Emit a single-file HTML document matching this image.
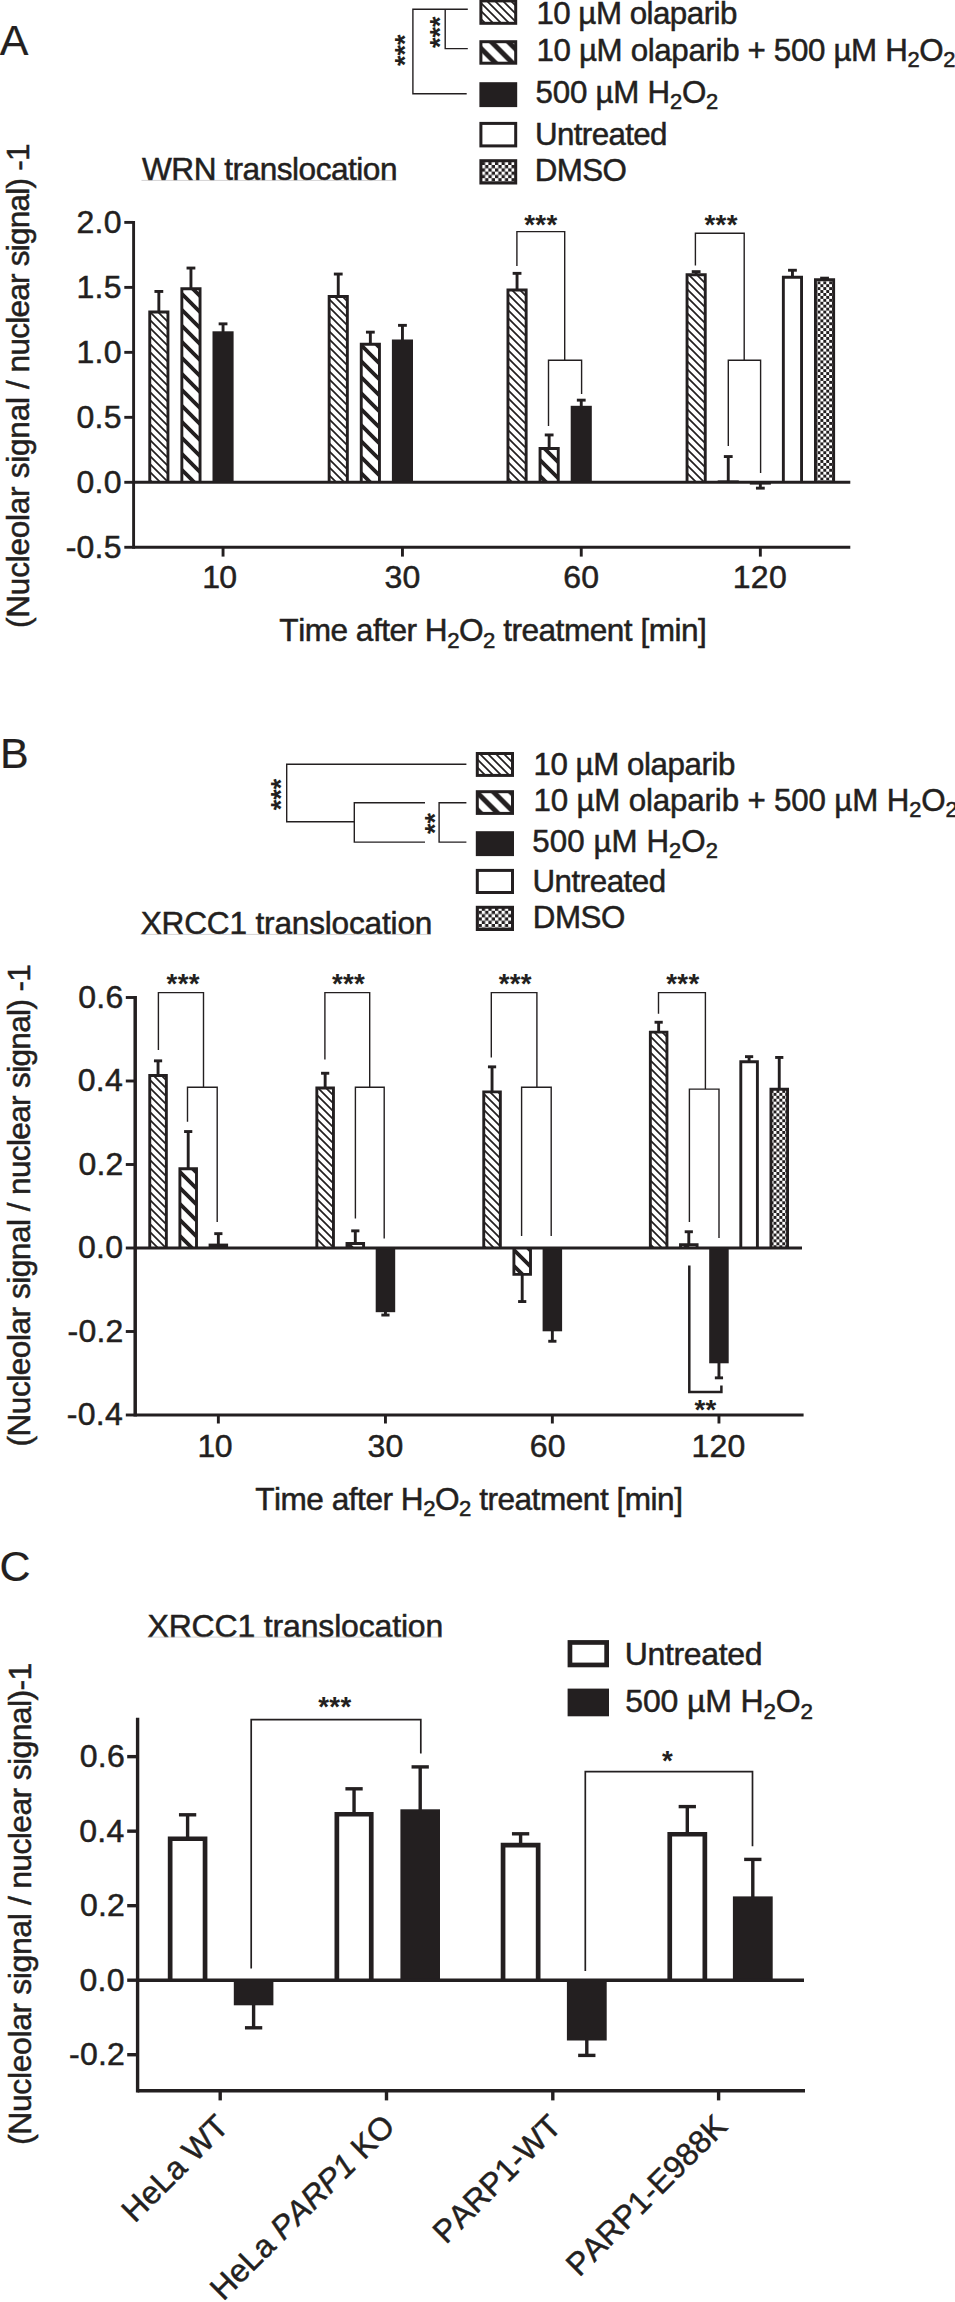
<!DOCTYPE html>
<html lang="en"><head><meta charset="utf-8"><title>Figure</title>
<style>
html,body{margin:0;padding:0;background:#fff;}
body{width:955px;height:2302px;overflow:hidden;}
svg{display:block;}
text{font-family:"Liberation Sans",sans-serif;fill:#231f20;stroke:#231f20;font-kerning:none;font-variant-ligatures:none;white-space:pre;}
</style></head><body>
<svg width="955" height="2302" viewBox="0 0 955 2302">
<rect width="955" height="2302" fill="#fff"/>
<defs>
<pattern id="h1" patternUnits="userSpaceOnUse" width="8" height="8" patternTransform="translate(0,2)">
<rect width="8" height="8" fill="#fff"/>
<path d="M-2,-2 L10,10 M-2,6 L2,10 M6,-2 L10,2" stroke="#231f20" stroke-width="1.7" fill="none"/>
</pattern>
<pattern id="h2" patternUnits="userSpaceOnUse" width="16" height="16">
<rect width="16" height="16" fill="#fff"/>
<path d="M-4,-4 L20,20 M-4,12 L4,20 M12,-4 L20,4" stroke="#231f20" stroke-width="3.8" fill="none"/>
</pattern>
<pattern id="h2l" patternUnits="userSpaceOnUse" width="17" height="17" patternTransform="translate(0,9.45)">
<rect width="17" height="17" fill="#fff"/>
<path d="M-5,-5 L22,22 M-5,12 L5,22 M12,-5 L22,5" stroke="#231f20" stroke-width="5.0" fill="none"/>
</pattern>
<pattern id="ck" patternUnits="userSpaceOnUse" width="5.86" height="5.86">
<rect width="5.86" height="5.86" fill="#231f20"/>
<rect x="0" y="0" width="2.93" height="2.93" fill="#fff"/>
<rect x="2.93" y="2.93" width="2.93" height="2.93" fill="#fff"/>
</pattern>
<pattern id="ckl" patternUnits="userSpaceOnUse" width="6.6" height="6.6">
<rect width="6.6" height="6.6" fill="#231f20"/>
<rect x="0" y="0" width="3.3" height="3.3" fill="#fff"/>
<rect x="3.3" y="3.3" width="3.3" height="3.3" fill="#fff"/>
</pattern>
</defs>
<text x="-0.30" y="54.90" font-size="43" letter-spacing="0.000" stroke-width="0.2">A</text>
<rect x="480.90" y="0.90" width="34.80" height="22.40" fill="url(#h1)"/>
<rect x="480.90" y="0.90" width="34.80" height="22.40" fill="none" stroke="#231f20" stroke-width="3.0"/>
<rect x="480.90" y="41.70" width="34.80" height="21.50" fill="url(#h2l)"/>
<rect x="480.90" y="41.70" width="34.80" height="21.50" fill="none" stroke="#231f20" stroke-width="3.0"/>
<rect x="479.40" y="82.20" width="37.80" height="24.90" fill="#231f20"/>
<rect x="480.90" y="123.40" width="34.80" height="22.50" fill="#fff"/>
<rect x="480.90" y="123.40" width="34.80" height="22.50" fill="none" stroke="#231f20" stroke-width="3.0"/>
<rect x="480.90" y="160.70" width="34.80" height="22.30" fill="url(#ckl)"/>
<rect x="480.90" y="160.70" width="34.80" height="22.30" fill="none" stroke="#231f20" stroke-width="3.0"/>
<text x="536.42" y="23.90" font-size="31.3" letter-spacing="-0.514" stroke-width="0.5">10 µM olaparib</text>
<text x="536.42" y="61.00" font-size="31.3" letter-spacing="-0.345" stroke-width="0.5">10 µM olaparib + 500 µM H<tspan dy="6.26" font-size="21.91">2</tspan><tspan dy="-6.26">O</tspan><tspan dy="6.26" font-size="21.91">2</tspan></text>
<text x="535.55" y="102.90" font-size="31.3" letter-spacing="-0.239" stroke-width="0.5">500 µM H<tspan dy="6.26" font-size="21.91">2</tspan><tspan dy="-6.26">O</tspan><tspan dy="6.26" font-size="21.91">2</tspan></text>
<text x="534.99" y="145.30" font-size="31.3" letter-spacing="-0.616" stroke-width="0.5">Untreated</text>
<text x="534.83" y="181.20" font-size="31.3" letter-spacing="-0.612" stroke-width="0.5">DMSO</text>
<polyline points="467.80,9.20 412.90,9.20 412.90,93.80 466.70,93.80" fill="none" stroke="#231f20" stroke-width="1.4" stroke-linejoin="miter"/>
<polyline points="445.20,9.20 445.20,48.60 467.80,48.60" fill="none" stroke="#231f20" stroke-width="1.4" stroke-linejoin="miter"/>
<text transform="translate(413.83,50.30) rotate(-90)" x="-15.79" y="0" font-size="27.0" letter-spacing="0.000" stroke-width="0"><tspan font-weight="bold">***</tspan></text>
<text transform="translate(448.73,32.20) rotate(-90)" x="-15.79" y="0" font-size="27.0" letter-spacing="0.000" stroke-width="0"><tspan font-weight="bold">***</tspan></text>
<text x="142.06" y="179.90" font-size="31.6" letter-spacing="-0.495" stroke-width="0.5">WRN translocation</text>
<line x1="141.50" y1="180.40" x2="396.00" y2="180.40" stroke="#b4b2b3" stroke-width="0.6"/>
<text transform="translate(29.30,627.96) rotate(-90)" font-size="31.6" letter-spacing="-0.273" stroke-width="0.5">(Nucleolar signal</text>
<text transform="translate(29.30,389.10) rotate(-90)" font-size="31.6" letter-spacing="0.000" stroke-width="0.5">/</text>
<text transform="translate(29.30,372.40) rotate(-90)" font-size="31.6" letter-spacing="-0.785" stroke-width="0.5">nuclear signal) -1</text>
<line x1="133.60" y1="220.95" x2="133.60" y2="548.73" stroke="#231f20" stroke-width="2.9"/>
<line x1="124.30" y1="222.40" x2="133.60" y2="222.40" stroke="#231f20" stroke-width="2.9"/>
<text x="76.47" y="232.80" font-size="32.0" letter-spacing="0.250" stroke-width="0.5">2.0</text>
<line x1="124.30" y1="287.38" x2="133.60" y2="287.38" stroke="#231f20" stroke-width="2.9"/>
<text x="76.56" y="297.77" font-size="32.0" letter-spacing="0.250" stroke-width="0.5">1.5</text>
<line x1="124.30" y1="352.35" x2="133.60" y2="352.35" stroke="#231f20" stroke-width="2.9"/>
<text x="76.47" y="362.75" font-size="32.0" letter-spacing="0.250" stroke-width="0.5">1.0</text>
<line x1="124.30" y1="417.33" x2="133.60" y2="417.33" stroke="#231f20" stroke-width="2.9"/>
<text x="76.56" y="427.73" font-size="32.0" letter-spacing="0.250" stroke-width="0.5">0.5</text>
<line x1="124.30" y1="482.30" x2="133.60" y2="482.30" stroke="#231f20" stroke-width="2.9"/>
<text x="76.47" y="492.70" font-size="32.0" letter-spacing="0.250" stroke-width="0.5">0.0</text>
<line x1="124.30" y1="547.27" x2="133.60" y2="547.27" stroke="#231f20" stroke-width="2.9"/>
<text x="65.65" y="557.67" font-size="32.0" letter-spacing="0.250" stroke-width="0.5">-0.5</text>
<line x1="133.60" y1="547.27" x2="850.30" y2="547.27" stroke="#231f20" stroke-width="2.9"/>
<line x1="158.85" y1="311.50" x2="158.85" y2="291.45" stroke="#231f20" stroke-width="2.9"/>
<line x1="154.45" y1="291.45" x2="163.25" y2="291.45" stroke="#231f20" stroke-width="2.9"/>
<rect x="149.75" y="311.95" width="18.20" height="170.35" fill="url(#h1)"/>
<path d="M149.75,482.30 L149.75,311.95 L167.95,311.95 L167.95,482.30" fill="none" stroke="#231f20" stroke-width="2.9" stroke-linejoin="miter"/>
<line x1="190.95" y1="288.30" x2="190.95" y2="268.05" stroke="#231f20" stroke-width="2.9"/>
<line x1="186.55" y1="268.05" x2="195.35" y2="268.05" stroke="#231f20" stroke-width="2.9"/>
<rect x="181.85" y="288.75" width="18.20" height="193.55" fill="url(#h2)"/>
<path d="M181.85,482.30 L181.85,288.75 L200.05,288.75 L200.05,482.30" fill="none" stroke="#231f20" stroke-width="2.9" stroke-linejoin="miter"/>
<line x1="223.05" y1="332.30" x2="223.05" y2="323.85" stroke="#231f20" stroke-width="2.9"/>
<line x1="218.65" y1="323.85" x2="227.45" y2="323.85" stroke="#231f20" stroke-width="2.9"/>
<rect x="212.50" y="331.30" width="21.10" height="151.00" fill="#231f20"/>
<line x1="338.25" y1="296.00" x2="338.25" y2="274.05" stroke="#231f20" stroke-width="2.9"/>
<line x1="333.85" y1="274.05" x2="342.65" y2="274.05" stroke="#231f20" stroke-width="2.9"/>
<rect x="329.15" y="296.45" width="18.20" height="185.85" fill="url(#h1)"/>
<path d="M329.15,482.30 L329.15,296.45 L347.35,296.45 L347.35,482.30" fill="none" stroke="#231f20" stroke-width="2.9" stroke-linejoin="miter"/>
<line x1="370.35" y1="343.80" x2="370.35" y2="332.15" stroke="#231f20" stroke-width="2.9"/>
<line x1="365.95" y1="332.15" x2="374.75" y2="332.15" stroke="#231f20" stroke-width="2.9"/>
<rect x="361.25" y="344.25" width="18.20" height="138.05" fill="url(#h2)"/>
<path d="M361.25,482.30 L361.25,344.25 L379.45,344.25 L379.45,482.30" fill="none" stroke="#231f20" stroke-width="2.9" stroke-linejoin="miter"/>
<line x1="402.45" y1="340.50" x2="402.45" y2="325.35" stroke="#231f20" stroke-width="2.9"/>
<line x1="398.05" y1="325.35" x2="406.85" y2="325.35" stroke="#231f20" stroke-width="2.9"/>
<rect x="391.90" y="339.50" width="21.10" height="142.80" fill="#231f20"/>
<line x1="517.05" y1="289.60" x2="517.05" y2="273.35" stroke="#231f20" stroke-width="2.9"/>
<line x1="512.65" y1="273.35" x2="521.45" y2="273.35" stroke="#231f20" stroke-width="2.9"/>
<rect x="507.95" y="290.05" width="18.20" height="192.25" fill="url(#h1)"/>
<path d="M507.95,482.30 L507.95,290.05 L526.15,290.05 L526.15,482.30" fill="none" stroke="#231f20" stroke-width="2.9" stroke-linejoin="miter"/>
<line x1="549.15" y1="448.00" x2="549.15" y2="434.95" stroke="#231f20" stroke-width="2.9"/>
<line x1="544.75" y1="434.95" x2="553.55" y2="434.95" stroke="#231f20" stroke-width="2.9"/>
<rect x="540.05" y="448.45" width="18.20" height="33.85" fill="url(#h2)"/>
<path d="M540.05,482.30 L540.05,448.45 L558.25,448.45 L558.25,482.30" fill="none" stroke="#231f20" stroke-width="2.9" stroke-linejoin="miter"/>
<line x1="581.25" y1="406.80" x2="581.25" y2="400.15" stroke="#231f20" stroke-width="2.9"/>
<line x1="576.85" y1="400.15" x2="585.65" y2="400.15" stroke="#231f20" stroke-width="2.9"/>
<rect x="570.70" y="405.80" width="21.10" height="76.50" fill="#231f20"/>
<line x1="696.15" y1="274.30" x2="696.15" y2="271.65" stroke="#231f20" stroke-width="2.9"/>
<line x1="691.75" y1="271.65" x2="700.55" y2="271.65" stroke="#231f20" stroke-width="2.9"/>
<rect x="687.05" y="274.75" width="18.20" height="207.55" fill="url(#h1)"/>
<path d="M687.05,482.30 L687.05,274.75 L705.25,274.75 L705.25,482.30" fill="none" stroke="#231f20" stroke-width="2.9" stroke-linejoin="miter"/>
<line x1="728.25" y1="481.40" x2="728.25" y2="456.55" stroke="#231f20" stroke-width="2.9"/>
<line x1="723.85" y1="456.55" x2="732.65" y2="456.55" stroke="#231f20" stroke-width="2.9"/>
<rect x="717.70" y="480.40" width="21.10" height="1.90" fill="#231f20"/>
<line x1="760.35" y1="483.60" x2="760.35" y2="488.15" stroke="#231f20" stroke-width="2.9"/>
<line x1="755.95" y1="488.15" x2="764.75" y2="488.15" stroke="#231f20" stroke-width="2.9"/>
<rect x="749.80" y="482.30" width="21.10" height="2.30" fill="#231f20"/>
<line x1="792.45" y1="276.80" x2="792.45" y2="270.25" stroke="#231f20" stroke-width="2.9"/>
<line x1="788.05" y1="270.25" x2="796.85" y2="270.25" stroke="#231f20" stroke-width="2.9"/>
<rect x="783.35" y="277.25" width="18.20" height="205.05" fill="#fff"/>
<path d="M783.35,482.30 L783.35,277.25 L801.55,277.25 L801.55,482.30" fill="none" stroke="#231f20" stroke-width="2.9" stroke-linejoin="miter"/>
<line x1="824.55" y1="279.20" x2="824.55" y2="278.15" stroke="#231f20" stroke-width="2.9"/>
<line x1="820.15" y1="278.15" x2="828.95" y2="278.15" stroke="#231f20" stroke-width="2.9"/>
<rect x="815.45" y="279.65" width="18.20" height="202.65" fill="url(#ck)"/>
<path d="M815.45,482.30 L815.45,279.65 L833.65,279.65 L833.65,482.30" fill="none" stroke="#231f20" stroke-width="2.9" stroke-linejoin="miter"/>
<line x1="133.60" y1="482.30" x2="850.30" y2="482.30" stroke="#231f20" stroke-width="2.9"/>
<line x1="223.05" y1="547.27" x2="223.05" y2="556.60" stroke="#231f20" stroke-width="2.9"/>
<text x="202.16" y="588.00" font-size="32.0" letter-spacing="-0.600" stroke-width="0.5">10</text>
<line x1="402.45" y1="547.27" x2="402.45" y2="556.60" stroke="#231f20" stroke-width="2.9"/>
<text x="384.54" y="588.00" font-size="32.0" letter-spacing="0.250" stroke-width="0.5">30</text>
<line x1="581.25" y1="547.27" x2="581.25" y2="556.60" stroke="#231f20" stroke-width="2.9"/>
<text x="563.14" y="588.00" font-size="32.0" letter-spacing="0.250" stroke-width="0.5">60</text>
<line x1="760.35" y1="547.27" x2="760.35" y2="556.60" stroke="#231f20" stroke-width="2.9"/>
<text x="732.81" y="588.00" font-size="32.0" letter-spacing="0.250" stroke-width="0.5">120</text>
<text x="279.34" y="641.40" font-size="31.6" letter-spacing="-0.497" stroke-width="0.5">Time after H<tspan dy="6.32" font-size="22.12">2</tspan><tspan dy="-6.32">O</tspan><tspan dy="6.32" font-size="22.12">2</tspan><tspan dy="-6.32"> treatment [min]</tspan></text>
<polyline points="516.90,265.90 516.90,231.60 564.70,231.60 564.70,360.20" fill="none" stroke="#231f20" stroke-width="1.4" stroke-linejoin="miter"/>
<polyline points="548.50,426.00 548.50,360.20 581.60,360.20 581.60,394.00" fill="none" stroke="#231f20" stroke-width="1.4" stroke-linejoin="miter"/>
<text x="524.25" y="233.85" font-size="27.7" letter-spacing="0.300" stroke-width="0"><tspan font-weight="bold">***</tspan></text>
<polyline points="695.40,265.60 695.40,233.30 744.20,233.30 744.20,360.30" fill="none" stroke="#231f20" stroke-width="1.4" stroke-linejoin="miter"/>
<polyline points="728.30,446.00 728.30,360.30 760.60,360.30 760.60,473.10" fill="none" stroke="#231f20" stroke-width="1.4" stroke-linejoin="miter"/>
<text x="704.50" y="233.85" font-size="27.7" letter-spacing="0.300" stroke-width="0"><tspan font-weight="bold">***</tspan></text>
<text x="0.00" y="768.30" font-size="43" letter-spacing="0.000" stroke-width="0.2">B</text>
<rect x="477.30" y="753.50" width="35.20" height="21.90" fill="url(#h1)"/>
<rect x="477.30" y="753.50" width="35.20" height="21.90" fill="none" stroke="#231f20" stroke-width="3.0"/>
<rect x="477.30" y="791.70" width="35.20" height="21.70" fill="url(#h2l)"/>
<rect x="477.30" y="791.70" width="35.20" height="21.70" fill="none" stroke="#231f20" stroke-width="3.0"/>
<rect x="475.80" y="831.20" width="38.20" height="24.90" fill="#231f20"/>
<rect x="477.30" y="870.40" width="35.20" height="22.10" fill="#fff"/>
<rect x="477.30" y="870.40" width="35.20" height="22.10" fill="none" stroke="#231f20" stroke-width="3.0"/>
<rect x="477.30" y="907.30" width="35.20" height="22.20" fill="url(#ckl)"/>
<rect x="477.30" y="907.30" width="35.20" height="22.20" fill="none" stroke="#231f20" stroke-width="3.0"/>
<text x="533.42" y="774.80" font-size="31.3" letter-spacing="-0.437" stroke-width="0.5">10 µM olaparib</text>
<text x="533.42" y="811.10" font-size="31.3" letter-spacing="-0.156" stroke-width="0.5">10 µM olaparib + 500 µM H<tspan dy="6.26" font-size="21.91">2</tspan><tspan dy="-6.26">O</tspan><tspan dy="6.26" font-size="21.91">2</tspan></text>
<text x="532.25" y="851.90" font-size="31.3" letter-spacing="0.061" stroke-width="0.5">500 µM H<tspan dy="6.26" font-size="21.91">2</tspan><tspan dy="-6.26">O</tspan><tspan dy="6.26" font-size="21.91">2</tspan></text>
<text x="532.39" y="892.20" font-size="31.3" letter-spacing="-0.453" stroke-width="0.5">Untreated</text>
<text x="532.73" y="927.80" font-size="31.3" letter-spacing="-0.445" stroke-width="0.5">DMSO</text>
<polyline points="466.40,764.20 286.70,764.20 286.70,821.70 354.30,821.70" fill="none" stroke="#231f20" stroke-width="1.4" stroke-linejoin="miter"/>
<polyline points="425.00,802.80 354.30,802.80 354.30,842.10 425.00,842.10" fill="none" stroke="#231f20" stroke-width="1.4" stroke-linejoin="miter"/>
<polyline points="466.40,802.80 439.10,802.80 439.10,842.10 466.40,842.10" fill="none" stroke="#231f20" stroke-width="1.4" stroke-linejoin="miter"/>
<text transform="translate(289.93,794.50) rotate(-90)" x="-15.79" y="0" font-size="27.0" letter-spacing="0.000" stroke-width="0"><tspan font-weight="bold">***</tspan></text>
<text transform="translate(443.53,823.40) rotate(-90)" x="-10.53" y="0" font-size="27.0" letter-spacing="0.000" stroke-width="0"><tspan font-weight="bold">**</tspan></text>
<text x="140.69" y="933.80" font-size="31.6" letter-spacing="-0.183" stroke-width="0.5">XRCC1 translocation</text>
<line x1="140.50" y1="934.40" x2="431.00" y2="934.40" stroke="#b4b2b3" stroke-width="0.6"/>
<text transform="translate(29.90,1446.56) rotate(-90)" font-size="31.6" letter-spacing="-0.480" stroke-width="0.5">(Nucleolar signal</text>
<text transform="translate(29.90,1211.30) rotate(-90)" font-size="31.6" letter-spacing="0.000" stroke-width="0.5">/</text>
<text transform="translate(29.90,1194.90) rotate(-90)" font-size="31.6" letter-spacing="-0.685" stroke-width="0.5">nuclear signal) -1</text>
<line x1="135.20" y1="996.05" x2="135.20" y2="1416.45" stroke="#231f20" stroke-width="3.5"/>
<line x1="125.80" y1="997.50" x2="135.20" y2="997.50" stroke="#231f20" stroke-width="2.9"/>
<text x="78.22" y="1007.90" font-size="32.0" letter-spacing="0.250" stroke-width="0.5">0.6</text>
<line x1="125.80" y1="1081.00" x2="135.20" y2="1081.00" stroke="#231f20" stroke-width="2.9"/>
<text x="77.75" y="1091.40" font-size="32.0" letter-spacing="0.250" stroke-width="0.5">0.4</text>
<line x1="125.80" y1="1164.50" x2="135.20" y2="1164.50" stroke="#231f20" stroke-width="2.9"/>
<text x="78.42" y="1174.90" font-size="32.0" letter-spacing="0.250" stroke-width="0.5">0.2</text>
<line x1="125.80" y1="1248.00" x2="135.20" y2="1248.00" stroke="#231f20" stroke-width="2.9"/>
<text x="78.07" y="1258.40" font-size="32.0" letter-spacing="0.250" stroke-width="0.5">0.0</text>
<line x1="125.80" y1="1331.50" x2="135.20" y2="1331.50" stroke="#231f20" stroke-width="2.9"/>
<text x="67.52" y="1341.90" font-size="32.0" letter-spacing="0.250" stroke-width="0.5">-0.2</text>
<line x1="125.80" y1="1415.00" x2="135.20" y2="1415.00" stroke="#231f20" stroke-width="2.9"/>
<text x="66.85" y="1425.40" font-size="32.0" letter-spacing="0.250" stroke-width="0.5">-0.4</text>
<line x1="135.20" y1="1415.00" x2="803.60" y2="1415.00" stroke="#231f20" stroke-width="2.9"/>
<line x1="158.05" y1="1075.00" x2="158.05" y2="1060.85" stroke="#231f20" stroke-width="2.9"/>
<line x1="153.95" y1="1060.85" x2="162.15" y2="1060.85" stroke="#231f20" stroke-width="2.9"/>
<rect x="149.75" y="1075.45" width="16.60" height="172.55" fill="url(#h1)"/>
<path d="M149.75,1248.00 L149.75,1075.45 L166.35,1075.45 L166.35,1248.00" fill="none" stroke="#231f20" stroke-width="2.9" stroke-linejoin="miter"/>
<line x1="188.20" y1="1168.30" x2="188.20" y2="1131.55" stroke="#231f20" stroke-width="2.9"/>
<line x1="184.10" y1="1131.55" x2="192.30" y2="1131.55" stroke="#231f20" stroke-width="2.9"/>
<rect x="179.90" y="1168.75" width="16.60" height="79.25" fill="url(#h2)"/>
<path d="M179.90,1248.00 L179.90,1168.75 L196.50,1168.75 L196.50,1248.00" fill="none" stroke="#231f20" stroke-width="2.9" stroke-linejoin="miter"/>
<line x1="218.35" y1="1244.60" x2="218.35" y2="1233.65" stroke="#231f20" stroke-width="2.9"/>
<line x1="214.25" y1="1233.65" x2="222.45" y2="1233.65" stroke="#231f20" stroke-width="2.9"/>
<rect x="208.60" y="1243.60" width="19.50" height="4.40" fill="#231f20"/>
<line x1="325.15" y1="1087.60" x2="325.15" y2="1073.25" stroke="#231f20" stroke-width="2.9"/>
<line x1="321.05" y1="1073.25" x2="329.25" y2="1073.25" stroke="#231f20" stroke-width="2.9"/>
<rect x="316.85" y="1088.05" width="16.60" height="159.95" fill="url(#h1)"/>
<path d="M316.85,1248.00 L316.85,1088.05 L333.45,1088.05 L333.45,1248.00" fill="none" stroke="#231f20" stroke-width="2.9" stroke-linejoin="miter"/>
<line x1="355.30" y1="1243.10" x2="355.30" y2="1230.85" stroke="#231f20" stroke-width="2.9"/>
<line x1="351.20" y1="1230.85" x2="359.40" y2="1230.85" stroke="#231f20" stroke-width="2.9"/>
<rect x="347.00" y="1243.55" width="16.60" height="4.45" fill="url(#h2)"/>
<path d="M347.00,1248.00 L347.00,1243.55 L363.60,1243.55 L363.60,1248.00" fill="none" stroke="#231f20" stroke-width="2.9" stroke-linejoin="miter"/>
<line x1="385.45" y1="1311.20" x2="385.45" y2="1315.05" stroke="#231f20" stroke-width="2.9"/>
<line x1="381.35" y1="1315.05" x2="389.55" y2="1315.05" stroke="#231f20" stroke-width="2.9"/>
<rect x="375.70" y="1248.00" width="19.50" height="64.20" fill="#231f20"/>
<line x1="492.05" y1="1091.40" x2="492.05" y2="1066.85" stroke="#231f20" stroke-width="2.9"/>
<line x1="487.95" y1="1066.85" x2="496.15" y2="1066.85" stroke="#231f20" stroke-width="2.9"/>
<rect x="483.75" y="1091.85" width="16.60" height="156.15" fill="url(#h1)"/>
<path d="M483.75,1248.00 L483.75,1091.85 L500.35,1091.85 L500.35,1248.00" fill="none" stroke="#231f20" stroke-width="2.9" stroke-linejoin="miter"/>
<line x1="522.20" y1="1274.80" x2="522.20" y2="1301.55" stroke="#231f20" stroke-width="2.9"/>
<line x1="518.10" y1="1301.55" x2="526.30" y2="1301.55" stroke="#231f20" stroke-width="2.9"/>
<rect x="513.90" y="1248.00" width="16.60" height="26.35" fill="url(#h2)"/>
<path d="M513.90,1248.00 L513.90,1274.35 L530.50,1274.35 L530.50,1248.00" fill="none" stroke="#231f20" stroke-width="2.9" stroke-linejoin="miter"/>
<line x1="552.35" y1="1330.30" x2="552.35" y2="1341.25" stroke="#231f20" stroke-width="2.9"/>
<line x1="548.25" y1="1341.25" x2="556.45" y2="1341.25" stroke="#231f20" stroke-width="2.9"/>
<rect x="542.60" y="1248.00" width="19.50" height="83.30" fill="#231f20"/>
<line x1="658.65" y1="1031.70" x2="658.65" y2="1022.25" stroke="#231f20" stroke-width="2.9"/>
<line x1="654.55" y1="1022.25" x2="662.75" y2="1022.25" stroke="#231f20" stroke-width="2.9"/>
<rect x="650.35" y="1032.15" width="16.60" height="215.85" fill="url(#h1)"/>
<path d="M650.35,1248.00 L650.35,1032.15 L666.95,1032.15 L666.95,1248.00" fill="none" stroke="#231f20" stroke-width="2.9" stroke-linejoin="miter"/>
<line x1="688.80" y1="1244.30" x2="688.80" y2="1231.75" stroke="#231f20" stroke-width="2.9"/>
<line x1="684.70" y1="1231.75" x2="692.90" y2="1231.75" stroke="#231f20" stroke-width="2.9"/>
<rect x="680.50" y="1244.75" width="16.60" height="3.25" fill="url(#h2)"/>
<path d="M680.50,1248.00 L680.50,1244.75 L697.10,1244.75 L697.10,1248.00" fill="none" stroke="#231f20" stroke-width="2.9" stroke-linejoin="miter"/>
<line x1="718.95" y1="1362.30" x2="718.95" y2="1377.85" stroke="#231f20" stroke-width="2.9"/>
<line x1="714.85" y1="1377.85" x2="723.05" y2="1377.85" stroke="#231f20" stroke-width="2.9"/>
<rect x="709.20" y="1248.00" width="19.50" height="115.30" fill="#231f20"/>
<line x1="749.10" y1="1061.30" x2="749.10" y2="1056.65" stroke="#231f20" stroke-width="2.9"/>
<line x1="745.00" y1="1056.65" x2="753.20" y2="1056.65" stroke="#231f20" stroke-width="2.9"/>
<rect x="740.80" y="1061.75" width="16.60" height="186.25" fill="#fff"/>
<path d="M740.80,1248.00 L740.80,1061.75 L757.40,1061.75 L757.40,1248.00" fill="none" stroke="#231f20" stroke-width="2.9" stroke-linejoin="miter"/>
<line x1="779.25" y1="1088.80" x2="779.25" y2="1057.45" stroke="#231f20" stroke-width="2.9"/>
<line x1="775.15" y1="1057.45" x2="783.35" y2="1057.45" stroke="#231f20" stroke-width="2.9"/>
<rect x="770.95" y="1089.25" width="16.60" height="158.75" fill="url(#ck)"/>
<path d="M770.95,1248.00 L770.95,1089.25 L787.55,1089.25 L787.55,1248.00" fill="none" stroke="#231f20" stroke-width="2.9" stroke-linejoin="miter"/>
<line x1="135.20" y1="1248.00" x2="802.00" y2="1248.00" stroke="#231f20" stroke-width="2.9"/>
<line x1="218.35" y1="1415.00" x2="218.35" y2="1423.50" stroke="#231f20" stroke-width="2.9"/>
<text x="197.46" y="1456.60" font-size="32.0" letter-spacing="-0.600" stroke-width="0.5">10</text>
<line x1="385.45" y1="1415.00" x2="385.45" y2="1423.50" stroke="#231f20" stroke-width="2.9"/>
<text x="367.54" y="1456.60" font-size="32.0" letter-spacing="0.250" stroke-width="0.5">30</text>
<line x1="552.35" y1="1415.00" x2="552.35" y2="1423.50" stroke="#231f20" stroke-width="2.9"/>
<text x="529.74" y="1456.60" font-size="32.0" letter-spacing="0.250" stroke-width="0.5">60</text>
<line x1="718.95" y1="1415.00" x2="718.95" y2="1423.50" stroke="#231f20" stroke-width="2.9"/>
<text x="691.41" y="1456.60" font-size="32.0" letter-spacing="0.250" stroke-width="0.5">120</text>
<text x="255.19" y="1510.00" font-size="31.6" letter-spacing="-0.489" stroke-width="0.5">Time after H<tspan dy="6.32" font-size="22.12">2</tspan><tspan dy="-6.32">O</tspan><tspan dy="6.32" font-size="22.12">2</tspan><tspan dy="-6.32"> treatment [min]</tspan></text>
<polyline points="158.40,1050.10 158.40,992.60 203.50,992.60 203.50,1087.20" fill="none" stroke="#231f20" stroke-width="1.4" stroke-linejoin="miter"/>
<polyline points="187.50,1121.70 187.50,1087.20 217.20,1087.20 217.20,1222.00" fill="none" stroke="#231f20" stroke-width="1.4" stroke-linejoin="miter"/>
<text x="166.60" y="992.85" font-size="27.7" letter-spacing="0.300" stroke-width="0"><tspan font-weight="bold">***</tspan></text>
<polyline points="324.90,1059.50 324.90,992.60 369.70,992.60 369.70,1087.20" fill="none" stroke="#231f20" stroke-width="1.4" stroke-linejoin="miter"/>
<polyline points="355.40,1218.60 355.40,1087.20 384.20,1087.20 384.20,1238.60" fill="none" stroke="#231f20" stroke-width="1.4" stroke-linejoin="miter"/>
<text x="331.90" y="992.85" font-size="27.7" letter-spacing="0.300" stroke-width="0"><tspan font-weight="bold">***</tspan></text>
<polyline points="491.30,1057.40 491.30,992.60 536.90,992.60 536.90,1087.20" fill="none" stroke="#231f20" stroke-width="1.4" stroke-linejoin="miter"/>
<polyline points="521.60,1236.10 521.60,1087.20 551.20,1087.20 551.20,1236.10" fill="none" stroke="#231f20" stroke-width="1.4" stroke-linejoin="miter"/>
<text x="498.70" y="992.85" font-size="27.7" letter-spacing="0.300" stroke-width="0"><tspan font-weight="bold">***</tspan></text>
<polyline points="658.50,1013.70 658.50,992.60 705.40,992.60 705.40,1089.10" fill="none" stroke="#231f20" stroke-width="1.4" stroke-linejoin="miter"/>
<polyline points="689.40,1222.00 689.40,1089.10 719.00,1089.10 719.00,1238.00" fill="none" stroke="#231f20" stroke-width="1.4" stroke-linejoin="miter"/>
<text x="666.30" y="992.85" font-size="27.7" letter-spacing="0.300" stroke-width="0"><tspan font-weight="bold">***</tspan></text>
<polyline points="689.30,1265.60 689.30,1392.00 721.40,1392.00 721.40,1385.60" fill="none" stroke="#231f20" stroke-width="2.5" stroke-linejoin="miter"/>
<text x="694.54" y="1418.55" font-size="27.7" letter-spacing="0.300" stroke-width="0"><tspan font-weight="bold">**</tspan></text>
<text x="-0.50" y="1581.30" font-size="43" letter-spacing="0.000" stroke-width="0.2">C</text>
<text x="147.48" y="1636.50" font-size="32.0" letter-spacing="-0.167" stroke-width="0.5">XRCC1 translocation</text>
<line x1="147.50" y1="1637.10" x2="441.80" y2="1637.10" stroke="#b4b2b3" stroke-width="0.6"/>
<text transform="translate(30.60,2144.98) rotate(-90)" font-size="32.0" letter-spacing="-0.406" stroke-width="0.5">(Nucleolar signal</text>
<text transform="translate(30.60,1905.00) rotate(-90)" font-size="32.0" letter-spacing="0.000" stroke-width="0.5">/</text>
<text transform="translate(30.60,1888.83) rotate(-90)" font-size="32.0" letter-spacing="-0.655" stroke-width="0.5">nuclear signal)-1</text>
<rect x="569.95" y="1642.45" width="36.70" height="22.50" fill="#fff"/>
<rect x="569.95" y="1642.45" width="36.70" height="22.50" fill="none" stroke="#231f20" stroke-width="4.7"/>
<rect x="567.60" y="1688.60" width="41.40" height="27.70" fill="#231f20"/>
<text x="624.73" y="1664.80" font-size="32.0" letter-spacing="-0.350" stroke-width="0.5">Untreated</text>
<text x="625.22" y="1712.10" font-size="32.0" letter-spacing="-0.137" stroke-width="0.5">500 µM H<tspan dy="6.40" font-size="22.40">2</tspan><tspan dy="-6.40">O</tspan><tspan dy="6.40" font-size="22.40">2</tspan></text>
<line x1="137.60" y1="1717.70" x2="137.60" y2="2092.50" stroke="#231f20" stroke-width="3.4"/>
<line x1="127.20" y1="1756.64" x2="137.60" y2="1756.64" stroke="#231f20" stroke-width="3.4"/>
<text x="79.72" y="1767.24" font-size="32.0" letter-spacing="0.250" stroke-width="0.5">0.6</text>
<line x1="127.20" y1="1831.16" x2="137.60" y2="1831.16" stroke="#231f20" stroke-width="3.4"/>
<text x="79.25" y="1841.76" font-size="32.0" letter-spacing="0.250" stroke-width="0.5">0.4</text>
<line x1="127.20" y1="1905.68" x2="137.60" y2="1905.68" stroke="#231f20" stroke-width="3.4"/>
<text x="79.92" y="1916.28" font-size="32.0" letter-spacing="0.250" stroke-width="0.5">0.2</text>
<line x1="127.20" y1="1980.20" x2="137.60" y2="1980.20" stroke="#231f20" stroke-width="3.4"/>
<text x="79.57" y="1990.80" font-size="32.0" letter-spacing="0.250" stroke-width="0.5">0.0</text>
<line x1="127.20" y1="2054.72" x2="137.60" y2="2054.72" stroke="#231f20" stroke-width="3.4"/>
<text x="69.02" y="2065.32" font-size="32.0" letter-spacing="0.250" stroke-width="0.5">-0.2</text>
<line x1="137.60" y1="2090.80" x2="805.00" y2="2090.80" stroke="#231f20" stroke-width="3.4"/>
<line x1="187.60" y1="1837.40" x2="187.60" y2="1814.80" stroke="#231f20" stroke-width="3.4"/>
<line x1="178.95" y1="1814.80" x2="196.25" y2="1814.80" stroke="#231f20" stroke-width="3.4"/>
<rect x="170.15" y="1838.75" width="34.90" height="141.45" fill="#fff"/>
<path d="M170.15,1980.20 L170.15,1838.75 L205.05,1838.75 L205.05,1980.20" fill="none" stroke="#231f20" stroke-width="4.7" stroke-linejoin="miter"/>
<line x1="253.60" y1="2004.30" x2="253.60" y2="2027.80" stroke="#231f20" stroke-width="3.4"/>
<line x1="244.95" y1="2027.80" x2="262.25" y2="2027.80" stroke="#231f20" stroke-width="3.4"/>
<rect x="233.80" y="1980.20" width="39.60" height="25.10" fill="#231f20"/>
<line x1="354.05" y1="1812.90" x2="354.05" y2="1788.80" stroke="#231f20" stroke-width="3.4"/>
<line x1="345.40" y1="1788.80" x2="362.70" y2="1788.80" stroke="#231f20" stroke-width="3.4"/>
<rect x="336.85" y="1814.25" width="34.40" height="165.95" fill="#fff"/>
<path d="M336.85,1980.20 L336.85,1814.25 L371.25,1814.25 L371.25,1980.20" fill="none" stroke="#231f20" stroke-width="4.7" stroke-linejoin="miter"/>
<line x1="420.20" y1="1810.30" x2="420.20" y2="1766.90" stroke="#231f20" stroke-width="3.4"/>
<line x1="411.55" y1="1766.90" x2="428.85" y2="1766.90" stroke="#231f20" stroke-width="3.4"/>
<rect x="400.40" y="1809.30" width="39.60" height="170.90" fill="#231f20"/>
<line x1="520.60" y1="1843.80" x2="520.60" y2="1833.80" stroke="#231f20" stroke-width="3.4"/>
<line x1="511.95" y1="1833.80" x2="529.25" y2="1833.80" stroke="#231f20" stroke-width="3.4"/>
<rect x="503.05" y="1845.15" width="35.10" height="135.05" fill="#fff"/>
<path d="M503.05,1980.20 L503.05,1845.15 L538.15,1845.15 L538.15,1980.20" fill="none" stroke="#231f20" stroke-width="4.7" stroke-linejoin="miter"/>
<line x1="586.80" y1="2039.50" x2="586.80" y2="2055.40" stroke="#231f20" stroke-width="3.4"/>
<line x1="578.15" y1="2055.40" x2="595.45" y2="2055.40" stroke="#231f20" stroke-width="3.4"/>
<rect x="566.90" y="1980.20" width="39.80" height="60.30" fill="#231f20"/>
<line x1="687.30" y1="1832.90" x2="687.30" y2="1806.60" stroke="#231f20" stroke-width="3.4"/>
<line x1="678.65" y1="1806.60" x2="695.95" y2="1806.60" stroke="#231f20" stroke-width="3.4"/>
<rect x="669.75" y="1834.25" width="35.10" height="145.95" fill="#fff"/>
<path d="M669.75,1980.20 L669.75,1834.25 L704.85,1834.25 L704.85,1980.20" fill="none" stroke="#231f20" stroke-width="4.7" stroke-linejoin="miter"/>
<line x1="752.80" y1="1897.40" x2="752.80" y2="1859.40" stroke="#231f20" stroke-width="3.4"/>
<line x1="744.15" y1="1859.40" x2="761.45" y2="1859.40" stroke="#231f20" stroke-width="3.4"/>
<rect x="732.90" y="1896.40" width="39.80" height="83.80" fill="#231f20"/>
<line x1="137.60" y1="1980.20" x2="804.00" y2="1980.20" stroke="#231f20" stroke-width="3.4"/>
<line x1="220.20" y1="2090.80" x2="220.20" y2="2100.40" stroke="#231f20" stroke-width="3.4"/>
<line x1="386.50" y1="2090.80" x2="386.50" y2="2100.40" stroke="#231f20" stroke-width="3.4"/>
<line x1="552.80" y1="2090.80" x2="552.80" y2="2100.40" stroke="#231f20" stroke-width="3.4"/>
<line x1="718.60" y1="2090.80" x2="718.60" y2="2100.40" stroke="#231f20" stroke-width="3.4"/>
<polyline points="251.20,1968.40 251.20,1719.60 420.80,1719.60 420.80,1753.50" fill="none" stroke="#231f20" stroke-width="1.7" stroke-linejoin="miter"/>
<text x="318.30" y="1715.95" font-size="27.7" letter-spacing="0.300" stroke-width="0"><tspan font-weight="bold">***</tspan></text>
<polyline points="585.30,1971.00 585.30,1771.60 752.50,1771.60 752.50,1846.20" fill="none" stroke="#231f20" stroke-width="1.7" stroke-linejoin="miter"/>
<text x="662.08" y="1769.55" font-size="27.7" letter-spacing="0.300" stroke-width="0"><tspan font-weight="bold">*</tspan></text>
<text transform="translate(230.40,2128.10) rotate(-45)" x="-135.14" y="0" font-size="32.0" letter-spacing="0.000" stroke-width="0.5">HeLa WT</text>
<text transform="translate(396.70,2128.10) rotate(-45)" x="-245.45" y="0" font-size="32.0" letter-spacing="0.000" stroke-width="0.5">HeLa <tspan font-style="italic">PARP1</tspan> KO</text>
<text transform="translate(563.00,2128.10) rotate(-45)" x="-165.34" y="0" font-size="32.0" letter-spacing="0.000" stroke-width="0.5">PARP1-WT</text>
<text transform="translate(728.80,2128.10) rotate(-45)" x="-211.67" y="0" font-size="32.0" letter-spacing="0.000" stroke-width="0.5">PARP1-E988K</text>
</svg>
</body></html>
